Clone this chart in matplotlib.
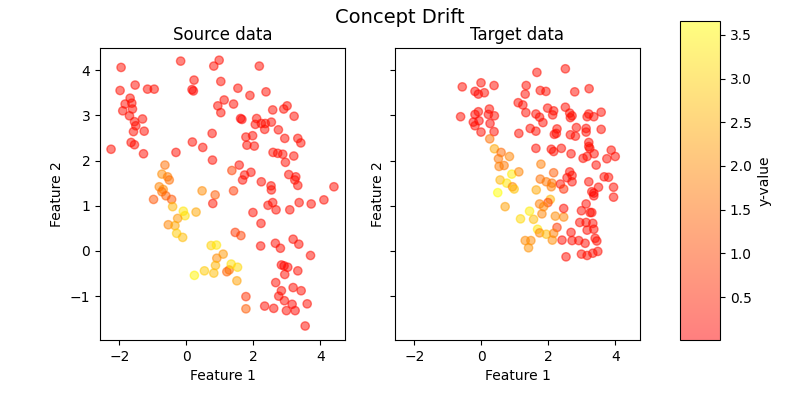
import matplotlib
matplotlib.use("Agg")
from matplotlib import pyplot as plt

# source data: feature 1, feature 2, y-value
src_x = [-1.95, -0.17, 0.98, 0.82, 0.23, -1.53, -1.98, -1.16, -0.96, 0.17,
         0.21, 1.03, -1.68, -1.83, -1.63, -1.90, -1.61, -1.70, -1.55, -1.31,
         -1.51, -1.58, -1.26, 0.94, 1.03, 1.13, -1.65, -1.55, -2.25, -1.28,
         -0.31, 0.18, 0.49, 0.77, 0.78, -0.64, -0.73, -0.56, -0.51, -0.81,
         -0.69, 0.47, 0.86, -0.73, -0.61, -0.44, -0.98, -0.41, -0.09, -0.04,
         -0.26, 0.29, -0.54, -0.34, -0.29, -0.11, 0.79, 0.74, 0.90, 1.10,
         0.91, 0.87, 0.82, 0.54, 0.24, 1.21, 1.28, 1.34, 1.53, 1.51,
         1.41, 2.54, 1.99, 2.44, 2.58, 2.68, 3.09, 3.37, 3.73, 4.11,
         4.41, 2.23, 1.46, 1.63, 2.22, 2.66, 2.81, 3.19, 3.36, 3.71,
         2.84, 2.92, 3.03, 2.94, 3.33, 2.67, 2.84, 3.19, 3.43, 2.76,
         2.93, 3.16, 3.25, 2.99, 3.61, 2.34, 2.61, 1.78, 1.78, 3.55,
         2.18, 1.54, 1.90, 2.38, 1.41, 2.58, 2.91, 3.01, 3.22, 1.62,
         1.66, 2.10, 2.06, 2.24, 2.36, 2.34, 2.54, 2.75, 1.98, 1.78,
         1.81, 2.03, 2.94, 3.33, 3.42, 2.59, 2.73, 2.88, 2.96, 3.21,
         1.58, 1.36, 1.93, 1.74, 1.68, 2.24, 2.53, 3.06, 3.27, 3.24,
         3.33]
src_y = [4.06, 4.20, 4.22, 4.09, 3.78, 3.67, 3.55, 3.58, 3.58, 3.57,
         3.54, 3.75, 3.38, 3.25, 3.27, 3.10, 3.14, 2.99, 2.86, 2.92,
         2.77, 2.64, 2.65, 3.21, 3.06, 3.34, 2.40, 2.35, 2.25, 2.15,
         2.18, 2.41, 2.29, 2.60, 2.01, 1.90, 1.70, 1.64, 1.57, 1.42,
         1.36, 1.33, 1.24, 1.31, 1.22, 1.14, 1.14, 0.98, 0.88, 0.78,
         0.72, 0.86, 0.58, 0.56, 0.39, 0.30, 1.05, 0.12, 0.13, -0.07,
         -0.16, -0.32, -0.49, -0.44, -0.54, -0.46, -0.42, -0.29, -0.36, -0.66,
         1.33, 1.35, 0.85, 1.01, 1.07, 0.91, 0.91, 1.07, 1.04, 1.13,
         1.42, 0.61, 0.41, 0.34, 0.11, 0.17, 0.06, 0.26, 0.15, -0.10,
         -0.31, -0.33, -0.36, -0.52, -0.44, -0.70, -0.88, -0.81, -0.88, -1.00,
         -1.10, -1.18, -1.32, -1.32, -1.17, -1.22, -1.27, -1.01, -1.28, -1.66,
         4.09, 3.60, 3.44, 3.52, 3.25, 3.12, 3.14, 3.21, 2.98, 2.93,
         2.91, 2.93, 2.80, 2.82, 2.82, 2.69, 2.85, 2.68, 2.55, 2.52,
         2.34, 2.32, 2.49, 2.49, 2.39, 2.18, 2.16, 2.14, 1.96, 2.10,
         1.90, 1.78, 1.74, 1.68, 1.57, 1.53, 1.44, 1.69, 1.64, 1.57,
         1.45]
src_c = [0.2, 0.2, 0.2, 0.2, 0.2, 0.2, 0.2, 0.2, 0.2, 0.1,
         0.1, 0.2, 0.2, 0.2, 0.2, 0.2, 0.2, 0.2, 0.2, 0.2,
         0.2, 0.2, 0.2, 0.2, 0.2, 0.2, 0.2, 0.2, 0.2, 0.2,
         0.2, 0.2, 0.2, 0.2, 0.2, 1.6, 2.0, 1.8, 1.6, 1.9,
         2.0, 2.0, 1.3, 1.6, 1.4, 1.2, 1.2, 2.6, 3.3, 3.2,
         2.2, 2.4, 1.9, 2.4, 2.9, 2.7, 0.3, 3.0, 3.3, 2.2,
         2.0, 2.6, 2.7, 2.9, 3.5, 1.4, 1.6, 3.2, 3.1, 2.3,
         0.8, 0.2, 0.2, 0.2, 0.2, 0.2, 0.2, 0.2, 0.2, 0.2,
         0.2, 0.2, 0.8, 0.9, 0.2, 0.2, 0.2, 0.2, 0.2, 0.2,
         0.1, 0.1, 0.1, 0.2, 0.2, 0.2, 0.2, 0.2, 0.2, 0.2,
         0.2, 0.1, 0.1, 0.2, 0.2, 0.2, 0.2, 0.7, 1.3, 0.2,
         0.2, 0.2, 0.2, 0.2, 0.2, 0.2, 0.2, 0.2, 0.2, 0.01,
         0.1, 0.2, 0.2, 0.2, 0.2, 0.2, 0.2, 0.2, 0.2, 0.2,
         0.2, 0.2, 0.2, 0.2, 0.2, 0.2, 0.2, 0.2, 0.2, 0.2,
         0.2, 0.9, 0.2, 0.2, 0.2, 0.2, 0.2, 0.2, 0.2, 0.2,
         0.2]

# target data
tgt_x = [-0.57, -0.01, 0.38, -0.19, -0.09, 0.09, 1.10, -0.62, -0.19, -0.09,
         0.24, 0.21, 0.39, -0.24, -0.07, -0.19, 0.26, -0.01, 0.38, 1.12,
         0.25, 0.39, 0.59, 0.84, 0.51, 0.53, 0.68, 0.91, 1.12, 0.56,
         0.76, 0.93, 0.98, 0.49, 0.71, 1.17, 1.66, 2.51, 1.34, 1.31,
         1.76, 1.93, 2.79, 3.22, 1.24, 1.33, 1.63, 1.74, 1.84, 1.98,
         2.16, 2.13, 2.51, 2.64, 2.66, 2.71, 3.16, 3.21, 3.36, 3.58,
         1.46, 1.63, 2.26, 2.18, 2.24, 2.66, 2.84, 2.81, 3.13, 3.13,
         3.58, 1.63, 2.09, 2.16, 2.39, 2.68, 3.21, 3.21, 3.24, 3.37,
         3.04, 3.16, 3.88, 4.00, 3.75, 3.43, 1.78, 2.16, 1.76, 1.94,
         2.11, 2.36, 2.64, 2.71, 2.56, 2.71, 3.21, 3.67, 3.80, 3.95,
         3.50, 3.30, 2.46, 1.64, 2.09, 2.06, 1.99, 1.74, 1.86, 1.44,
         1.81, 1.56, 2.21, 2.46, 2.46, 3.36, 3.95, 3.13, 2.99, 3.25,
         3.30, 2.94, 3.13, 3.33, 3.16, 3.36, 2.26, 1.68, 1.74, 1.94,
         2.16, 2.12, 1.31, 1.48, 1.41, 2.41, 2.68, 2.71, 2.91, 3.10,
         3.40, 3.45, 2.53, 2.99, 3.16, 3.33, 3.48, 3.36]
tgt_y = [3.63, 3.72, 3.66, 3.53, 3.47, 3.50, 3.28, 2.97, 3.02, 3.08,
         3.14, 3.02, 2.99, 2.85, 2.88, 2.77, 2.82, 2.63, 2.64, 2.60,
         2.48, 2.26, 2.18, 2.09, 2.04, 1.87, 1.89, 1.70, 1.75, 1.57,
         1.50, 1.42, 1.37, 1.29, 0.98, 0.71, 3.95, 4.03, 3.66, 3.47,
         3.55, 3.53, 3.52, 3.59, 3.23, 3.06, 3.03, 2.96, 2.84, 3.16,
         3.10, 3.01, 3.18, 3.05, 2.95, 2.99, 2.97, 3.03, 2.97, 3.07,
         2.71, 2.65, 2.70, 2.58, 2.60, 2.57, 2.73, 2.54, 2.71, 2.63,
         2.69, 2.27, 2.25, 2.20, 2.27, 2.15, 2.40, 2.31, 2.27, 2.15,
         2.05, 2.09, 2.23, 2.09, 2.04, 1.90, 1.92, 1.73, 1.59, 1.53,
         1.50, 1.48, 1.75, 1.67, 1.62, 1.53, 1.53, 1.64, 1.63, 1.41,
         1.41, 1.31, 1.37, 1.35, 1.42, 1.14, 1.07, 1.04, 0.98, 0.88,
         0.82, 0.70, 0.77, 0.75, 0.94, 1.28, 1.19, 1.04, 0.89, 0.85,
         0.85, 0.63, 0.63, 0.61, 0.46, 0.48, 0.52, 0.48, 0.40, 0.37,
         0.39, 0.24, 0.23, 0.23, 0.07, 0.24, 0.41, 0.23, 0.23, 0.17,
         0.28, 0.22, -0.13, -0.07, -0.10, -0.05, -0.01, 1.22]
tgt_c = [0.2, 0.2, 0.2, 0.1, 0.1, 0.2, 0.2, 0.2, 0.1, 0.2,
         0.2, 0.1, 0.2, 0.1, 0.1, 0.2, 0.1, 0.2, 0.2, 0.2,
         1.6, 2.4, 1.5, 1.9, 1.7, 1.8, 1.7, 3.4, 1.9, 2.6,
         3.3, 1.9, 2.8, 3.66, 2.3, 3.1, 0.2, 0.2, 0.2, 0.2,
         0.2, 0.2, 0.2, 0.2, 0.2, 0.2, 0.2, 0.2, 0.2, 0.2,
         0.2, 0.2, 0.2, 0.2, 0.2, 0.2, 0.2, 0.2, 0.2, 0.2,
         0.2, 0.2, 0.2, 0.2, 0.2, 0.2, 0.2, 0.2, 0.2, 0.2,
         0.2, 0.2, 0.2, 0.2, 0.2, 0.2, 0.2, 0.2, 0.2, 0.2,
         0.2, 0.2, 0.2, 0.2, 0.2, 0.2, 1.8, 1.3, 1.6, 1.7,
         1.6, 0.3, 0.2, 0.2, 0.2, 0.2, 0.2, 0.2, 0.2, 0.2,
         0.2, 0.2, 0.6, 2.4, 1.8, 2.6, 0.9, 1.8, 1.9, 3.4,
         1.9, 2.7, 2.0, 1.9, 0.2, 0.1, 0.2, 0.2, 0.2, 0.2,
         0.2, 0.2, 0.2, 0.2, 0.2, 0.2, 0.8, 3.3, 1.9, 2.7,
         1.8, 2.0, 2.0, 2.0, 2.1, 0.2, 0.2, 0.2, 0.2, 0.2,
         0.2, 0.2, 0.2, 0.2, 0.2, 0.2, 0.2, 0.1]

vmin = min(min(src_c), min(tgt_c))
vmax = max(max(src_c), max(tgt_c))

fig = plt.figure(figsize=(8, 4), dpi=100)
ax1 = fig.add_axes([0.125, 0.15, 0.30625, 0.73])
ax2 = fig.add_axes([0.49375, 0.15, 0.30625, 0.73], sharex=ax1, sharey=ax1)
cax = fig.add_axes([0.85, 0.15, 0.05, 0.798])

sc = ax1.scatter(src_x, src_y, c=src_c, cmap="autumn", alpha=0.5, vmin=vmin, vmax=vmax)
ax1.set_title("Source data")
ax1.set_xlabel("Feature 1")
ax1.set_ylabel("Feature 2")

ax2.scatter(tgt_x, tgt_y, c=tgt_c, cmap="autumn", alpha=0.5, vmin=vmin, vmax=vmax)
ax2.set_title("Target data")
ax2.set_xlabel("Feature 1")
ax2.set_ylabel("Feature 2")
ax2.tick_params(labelleft=False)

ax1.set_xlim(-2.58, 4.74)
ax1.set_ylim(-1.97, 4.49)

cb = fig.colorbar(sc, cax=cax)
cb.set_label("y-value")

fig.suptitle("Concept Drift", fontsize=14)
fig.savefig("out.png")
